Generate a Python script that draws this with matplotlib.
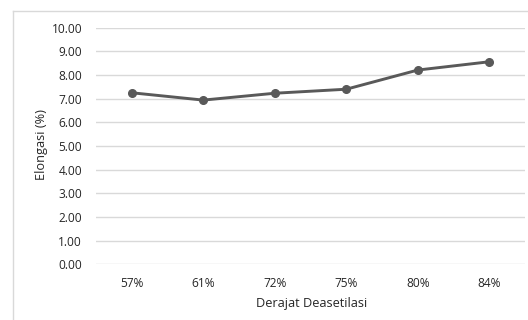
import matplotlib
matplotlib.use("Agg")
import matplotlib.pyplot as plt
from matplotlib.lines import Line2D

categories = ["57%", "61%", "72%", "75%", "80%", "84%"]
values = [7.25, 6.94, 7.23, 7.40, 8.21, 8.56]
yticks = [0, 1, 2, 3, 4, 5, 6, 7, 8, 9, 10]

W, H = 528, 320
fig = plt.figure(figsize=(W / 100, H / 100), dpi=100)
fig.patch.set_facecolor("white")

# axes placement in pixels
left, right = 96, 525
top, bottom = 27.7, 264.3
ax = fig.add_axes([left / W, 1 - bottom / H, (right - left) / W, (bottom - top) / H])

x = list(range(len(categories)))
ax.plot(x, values, color="#595959", lw=2.1, marker="o", ms=5.5, zorder=3)
ax.set_xlim(-0.5, len(categories) - 0.5)
ax.set_ylim(0, 10)
ax.set_yticks(yticks)
ax.set_yticklabels([f"{v:.2f}" for v in yticks])
ax.set_xticks(x)
ax.set_xticklabels(categories)
ax.grid(axis="y", color="#d9d9d9", lw=1.0)
ax.set_axisbelow(True)
for s in ax.spines.values():
    s.set_visible(False)
ax.tick_params(length=0, labelsize=8.6, colors="#262626")
ax.tick_params(axis="y", pad=10)
ax.tick_params(axis="x", pad=9)
for lab in ax.get_xticklabels() + ax.get_yticklabels():
    lab.set_fontfamily("Open Sans")

fig.text(41 / W, 1 - 144 / H, "Elongasi (%)", rotation=90, ha="center", va="center",
         fontsize=9.2, color="#262626", family="Open Sans")
fig.text(312 / W, 1 - 303 / H, "Derajat Deasetilasi", ha="center", va="center",
         fontsize=9.2, color="#262626", family="Open Sans")

# outer chart border (left and top visible)
fig.add_artist(Line2D([13 / W, 13 / W], [0, 1 - 11 / H], color="#d9d9d9", lw=1.0, transform=fig.transFigure))
fig.add_artist(Line2D([13 / W, 1], [1 - 11 / H, 1 - 11 / H], color="#d9d9d9", lw=1.0, transform=fig.transFigure))

fig.savefig("out.png", dpi=100, facecolor="white")
